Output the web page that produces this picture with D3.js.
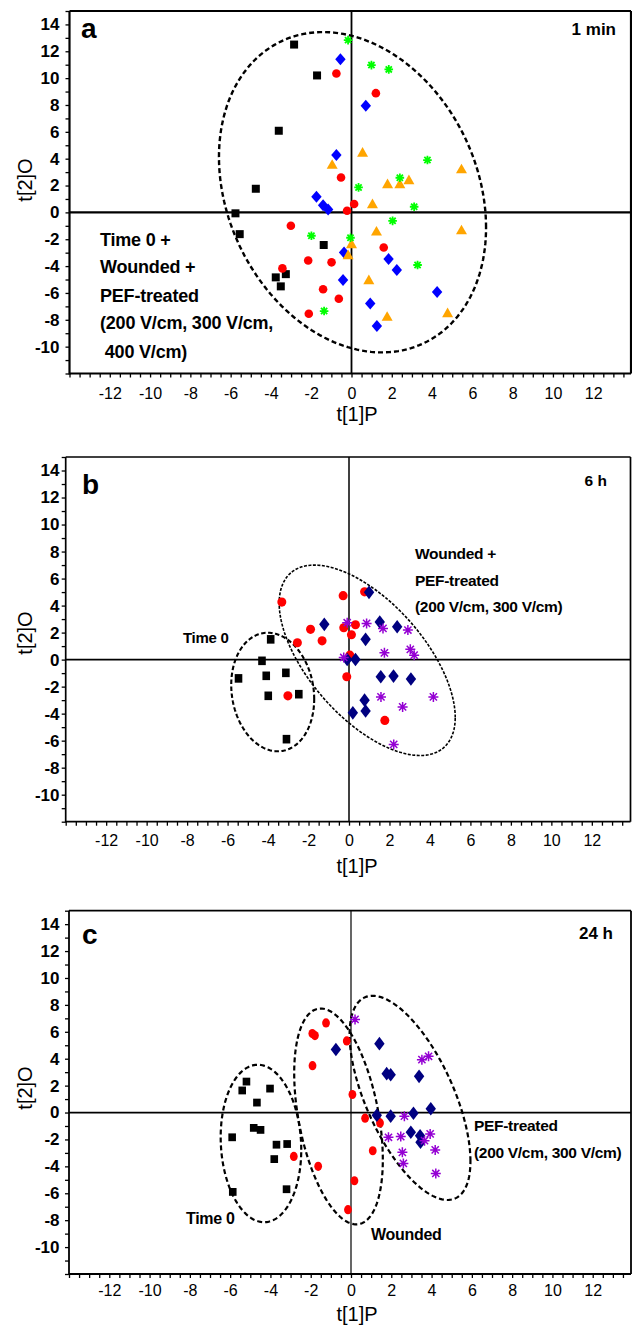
<!DOCTYPE html>
<html>
<head>
<meta charset="utf-8">
<script src="https://cdn.jsdelivr.net/npm/d3@7"></script>
<style>
body{margin:0;background:#fff;}
svg{display:block;font-family:"Liberation Sans",Arial,Helvetica,sans-serif;}
</style>
</head>
<body>
<svg id="chart" width="632" height="1328"></svg>
<script>
// tick labels shared by all three panels
var xTickLabels = [-12,-10,-8,-6,-4,-2,0,2,4,6,8,10,12];
var yTickLabels = [-10,-8,-6,-4,-2,0,2,4,6,8,10,12,14];

// panel a, 1 min
var a_time0 = [[-2.85,12.5],[-1.71,10.2],[-3.61,6.08],[-4.75,1.76],[-5.76,-0.07],[-5.55,-1.62],[-3.76,-4.84],[-3.26,-4.6],[-3.51,-5.51],[-1.38,-2.43]];
var a_wounded = [[-0.75,10.35],[1.21,8.88],[-0.52,2.6],[0.13,0.62],[-0.22,0.12],[-3.01,-1.0],[-2.15,-3.58],[-3.43,-4.17],[-0.99,-3.72],[-1.41,-5.73],[-0.63,-6.43],[-2.12,-7.55],[1.6,-2.61]];
var a_pef200 = [[-0.55,11.4],[0.71,7.94],[-0.75,4.27],[-1.74,1.16],[-1.41,0.54],[-1.16,0.22],[-0.37,-2.98],[-0.42,-5.04],[1.84,-3.48],[2.25,-4.3],[4.25,-5.93],[0.93,-6.78],[1.26,-8.47]];
var a_pef300 = [[-0.96,3.6],[0.55,4.51],[5.46,3.27],[1.79,2.16],[2.4,2.16],[2.85,2.46],[1.04,0.67],[0.0,-2.31],[-0.17,-3.13],[1.24,-1.37],[5.46,-1.27],[0.86,-4.99],[1.77,-7.72],[4.77,-7.45]];
var a_pef400 = [[-0.17,12.83],[0.99,10.97],[1.85,10.65],[3.77,3.9],[2.4,2.58],[0.35,1.86],[3.11,0.42],[-1.99,-1.74],[-0.05,-1.89],[2.04,-0.63],[3.28,-3.92],[-1.36,-7.35]];
// ellipse: centre x, centre y, half width, half height, correlation
var a_ellipses = [[0.05,1.5,6.63,11.93,-0.22]];

// panel b, 6 h
var b_time0 = [[-3.87,1.5],[-4.3,-0.09],[-5.46,-1.39],[-4.09,-1.2],[-3.12,-0.98],[-3.99,-2.68],[-2.48,-2.56],[-3.09,-5.89]];
var b_wounded = [[-3.32,4.26],[-0.29,4.73],[0.77,5.02],[-1.9,2.24],[-1.33,1.39],[-2.55,1.25],[-0.26,2.36],[0.32,2.58],[0.12,1.84],[0.04,0.33],[-0.11,-1.27],[-3.02,-2.68],[1.77,-4.5]];
var b_pef200 = [[0.99,4.98],[-1.22,2.61],[1.52,2.78],[2.38,2.43],[0.82,1.5],[-0.09,0.01],[0.32,0.01],[1.57,-1.27],[2.2,-1.22],[3.06,-1.44],[0.77,-3.0],[0.82,-3.81],[0.19,-3.94]];
var b_pef300 = [[-0.09,2.73],[0.87,2.68],[1.68,2.31],[2.91,2.19],[1.75,0.5],[3.03,0.76],[3.22,0.33],[-0.26,0.16],[1.58,-2.76],[2.65,-3.5],[4.17,-2.76],[2.21,-6.28]];
var b_ellipses = [[-3.77,-2.4,2.05,4.39,-0.12],[0.9,-0.05,4.35,7.05,-0.6]];

// panel c, 24 h
var c_time0 = [[-5.19,2.3],[-5.4,1.64],[-4.02,1.78],[-4.67,0.74],[-4.83,-1.14],[-4.49,-1.29],[-3.7,-2.39],[-3.17,-2.34],[-3.81,-3.46],[-3.2,-5.7],[-5.9,-1.84],[-5.87,-5.9]];
var c_wounded = [[-1.24,6.66],[-1.92,5.87],[-1.79,5.72],[-0.21,5.32],[-1.91,3.48],[0.07,1.34],[0.7,-0.42],[1.44,-0.77],[1.08,-2.84],[-2.84,-3.26],[-1.63,-4.0],[0.17,-5.07],[-0.15,-7.22]];
var c_pef200 = [[-0.75,4.68],[1.41,5.12],[1.77,2.89],[1.97,2.81],[3.38,2.69],[1.28,-0.2],[1.97,-0.27],[3.1,-0.05],[3.96,0.28],[2.97,-1.47],[3.43,-1.72],[3.45,-2.21]];
var c_pef300 = [[0.2,6.92],[3.52,3.93],[3.85,4.18],[2.65,-0.27],[1.86,-1.84],[2.47,-1.79],[3.93,-1.59],[3.65,-2.09],[2.55,-2.96],[4.18,-2.78],[2.6,-3.78],[4.21,-4.53]];
var c_ellipses = [[-4.47,-2.3,2.0,5.85,-0.08],[-0.62,-0.29,2.2,8.02,-0.4],[2.93,1.09,3.0,7.59,-0.62]];

var svg = d3.select("#chart");

function symbolPath(type, s) {
  if (type == "square") return "M" + (-s.w) + "," + (-s.h) + "H" + s.w + "V" + s.h + "H" + (-s.w) + "Z";
  if (type == "diamond") return "M0," + (-s.h) + "L" + s.w + ",0L0," + s.h + "L" + (-s.w) + ",0Z";
  if (type == "triangle") return "M0," + (-s.h) + "L" + s.w + "," + s.h + "L" + (-s.w) + "," + s.h + "Z";
  if (type == "star") {
    var r = s.w, q = s.w * 0.72;
    return "M" + (-r) + ",0H" + r + "M0," + (-r) + "V" + r +
      "M" + (-q) + "," + (-q) + "L" + q + "," + q + "M" + (-q) + "," + q + "L" + q + "," + (-q);
  }
}

function drawPanel(p) {
  var g = svg.append("g");
  var x = d3.scaleLinear().domain([-14, 14]).range(p.xr);
  var y = d3.scaleLinear().domain([-12, 15]).range(p.yr);
  var x0 = x(-14), x1 = p.right, yT = y(15), yB = y(-12);

  // ticks
  var xa = d3.axisBottom(x).tickValues(d3.range(-14, 14.01, 0.5)).tickSize(4).tickPadding(p.xpad)
    .tickFormat(function(d) { return xTickLabels.indexOf(d) >= 0 ? String(d) : ""; });
  var gx = g.append("g").attr("transform", "translate(0," + yB + ")").call(xa);
  gx.select(".domain").remove();
  gx.selectAll("line").attr("stroke-width", 1.3);
  gx.selectAll("text").attr("font-size", 16).attr("font-family", "Liberation Sans, Arial, sans-serif").attr("fill", "#000");

  var ya = d3.axisLeft(y).tickValues(d3.range(-12, 15.01, 1)).tickSize(4).tickPadding(p.ypad)
    .tickFormat(function(d) { return yTickLabels.indexOf(d) >= 0 ? String(d) : ""; });
  var gy = g.append("g").attr("transform", "translate(" + x0 + ",0)").call(ya);
  gy.select(".domain").remove();
  gy.selectAll("line").attr("stroke-width", 1.3);
  gy.selectAll("text").attr("font-size", 17).attr("font-weight", "bold").attr("font-family", "Liberation Sans, Arial, sans-serif").attr("fill", "#000");

  // frame and zero lines
  var fw = p.frame;
  g.append("line").attr("x1", x0).attr("x2", x0).attr("y1", yT).attr("y2", yB + fw / 2).attr("stroke", "#000").attr("stroke-width", fw);
  g.append("line").attr("x1", x0).attr("x2", x1).attr("y1", yB).attr("y2", yB).attr("stroke", "#000").attr("stroke-width", fw);
  g.append("line").attr("x1", x0).attr("x2", x1).attr("y1", yT).attr("y2", yT).attr("stroke", "#000").attr("stroke-width", fw);
  g.append("line").attr("x1", x1).attr("x2", x1).attr("y1", yT).attr("y2", yB).attr("stroke", "#000").attr("stroke-width", fw);
  g.append("line").attr("x1", x0).attr("x2", x1).attr("y1", y(0)).attr("y2", y(0)).attr("stroke", "#000").attr("stroke-width", p.zeroH);
  g.append("line").attr("x1", x(0)).attr("x2", x(0)).attr("y1", yT).attr("y2", yB).attr("stroke", "#000").attr("stroke-width", p.zeroV);

  // confidence ellipses
  var line = d3.line().x(function(d) { return x(d[0]); }).y(function(d) { return y(d[1]); }).curve(d3.curveLinearClosed);
  p.ellipses.forEach(function(e, i) {
    var pts = d3.range(0, 2 * Math.PI, Math.PI / 90).map(function(t) {
      var u = Math.cos(t), v = e[4] * Math.cos(t) + Math.sqrt(1 - e[4] * e[4]) * Math.sin(t);
      return [e[0] + e[2] * u, e[1] + e[3] * v];
    });
    var st = p.ellStyle[i];
    g.append("path").attr("d", line(pts)).attr("fill", "none").attr("stroke", "#000")
      .attr("stroke-width", st[0]).attr("stroke-dasharray", st[1]);
  });

  // points
  p.series.forEach(function(s) {
    g.append("g").selectAll("path").data(s.data).enter().append("path")
      .attr("transform", function(d) { return "translate(" + x(d[0]) + "," + y(d[1]) + ")"; })
      .attr("d", function() {
        if (s.type == "circle") return null;
        return symbolPath(s.type, s.size);
      })
      .attr("fill", s.type == "star" ? "none" : s.color)
      .attr("stroke", s.type == "star" ? s.color : "none")
      .attr("stroke-width", s.type == "star" ? s.size.sw : 0);
    if (s.type == "circle") {
      g.append("g").selectAll("ellipse").data(s.data).enter().append("ellipse")
        .attr("cx", function(d) { return x(d[0]); })
        .attr("cy", function(d) { return y(d[1]); })
        .attr("rx", s.size.w).attr("ry", s.size.h).attr("fill", s.color);
    }
  });

  // axis titles
  g.append("text").attr("x", p.xtitle[0]).attr("y", p.xtitle[1]).attr("text-anchor", "middle")
    .attr("font-size", 20).text("t[1]P");
  g.append("text").attr("transform", "translate(" + p.ytitle[0] + "," + p.ytitle[1] + ") rotate(-90)")
    .attr("text-anchor", "middle").attr("font-size", 20).text("t[2]O");

  // panel letter and time label
  g.append("text").attr("x", p.letter[0]).attr("y", p.letter[1]).attr("font-size", 28).attr("font-weight", "bold").text(p.letter[2]);
  g.append("text").attr("x", p.time[0]).attr("y", p.time[1]).attr("text-anchor", "end")
    .attr("font-size", p.time[3]).attr("font-weight", "bold").text(p.time[2]);

  p.notes.forEach(function(n) {
    g.append("text").attr("x", n[0]).attr("y", n[1]).attr("font-size", n[3]).attr("font-weight", "bold")
      .attr("letter-spacing", n[4] || 0).attr("xml:space", "preserve").text(n[2]);
  });
}

drawPanel({
  xr: [69.5, 633.5], yr: [373.5, 11], right: 631, xpad: 10, ypad: 6,
  frame: 2.2, zeroH: 2.2, zeroV: 1.8,
  ellipses: a_ellipses, ellStyle: [[2.4, "5,3"]],
  series: [
    {data: a_time0, type: "square", color: "#000", size: {w: 4, h: 4}},
    {data: a_wounded, type: "circle", color: "#ff0000", size: {w: 4.3, h: 4.3}},
    {data: a_pef200, type: "diamond", color: "#0000ff", size: {w: 5.2, h: 6}},
    {data: a_pef300, type: "triangle", color: "#ffa500", size: {w: 5.5, h: 4.8}},
    {data: a_pef400, type: "star", color: "#00ff00", size: {w: 4.3, sw: 1.8}}
  ],
  xtitle: [357, 421], ytitle: [32, 180],
  letter: [81, 38, "a"], time: [616, 35, "1 min", 17],
  notes: [[100, 246, "Time 0 +", 18, -0.2], [100, 273, "Wounded +", 18, -0.2], [100, 301.5, "PEF-treated", 18, -0.2],
          [100, 329, "(200 V/cm, 300 V/cm,", 18, -0.2], [100, 358, " 400 V/cm)", 18, -0.2]]
});

drawPanel({
  xr: [65.7, 632.3], yr: [821.7, 457], right: 630.5, xpad: 8.5, ypad: 2.2,
  frame: 1.7, zeroH: 1.6, zeroV: 1.5,
  ellipses: b_ellipses, ellStyle: [[2.1, "4.5,2.5"], [1.6, "3,1.5"]],
  series: [
    {data: b_time0, type: "square", color: "#000", size: {w: 3.8, h: 4.3}},
    {data: b_wounded, type: "circle", color: "#ff0000", size: {w: 4.5, h: 4.6}},
    {data: b_pef200, type: "diamond", color: "#000080", size: {w: 5.2, h: 6.8}},
    {data: b_pef300, type: "star", color: "#9400d3", size: {w: 5, sw: 1.5}}
  ],
  xtitle: [357, 873], ytitle: [32, 633],
  letter: [82, 493.5, "b"], time: [607, 486, "6 h", 15.5],
  notes: [[415, 559, "Wounded +", 15.5, -0.3], [415, 585.7, "PEF-treated", 15.5, -0.3],
          [415, 611.7, "(200 V/cm, 300 V/cm)", 15.5, -0.3], [183, 642.7, "Time 0", 15, -0.3]]
});

drawPanel({
  xr: [69, 633], yr: [1274, 910.7], right: 631, xpad: 7, ypad: 5.5,
  frame: 1.8, zeroH: 1.8, zeroV: 1.2,
  ellipses: c_ellipses, ellStyle: [[2.2, "5,3"], [2.2, "5,3"], [2.2, "5,3"]],
  series: [
    {data: c_time0, type: "square", color: "#000", size: {w: 3.8, h: 3.9}},
    {data: c_wounded, type: "circle", color: "#ff0000", size: {w: 3.9, h: 4.6}},
    {data: c_pef200, type: "diamond", color: "#000080", size: {w: 5.2, h: 6.8}},
    {data: c_pef300, type: "star", color: "#9400d3", size: {w: 5, sw: 1.5}}
  ],
  xtitle: [357, 1321], ytitle: [32, 1088],
  letter: [82, 943.5, "c"], time: [613, 939, "24 h", 17],
  notes: [[474, 1131, "PEF-treated", 15.5, -0.3], [474, 1158, "(200 V/cm, 300 V/cm)", 15.5, -0.3],
          [186, 1224, "Time 0", 16, -0.3], [371, 1240, "Wounded", 16, -0.3]]
});
</script>
</body>
</html>
